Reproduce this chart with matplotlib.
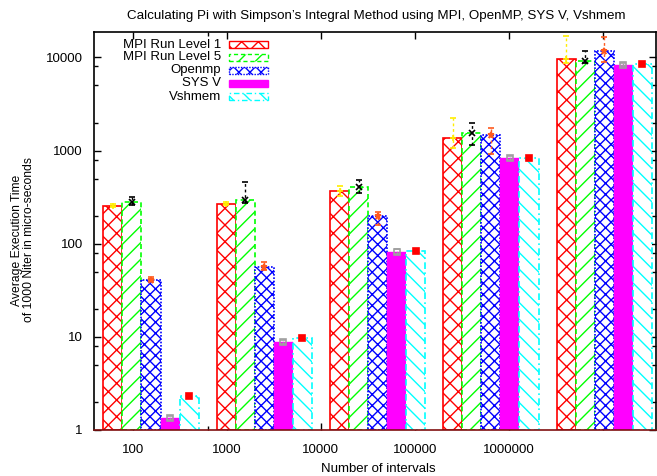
import matplotlib
matplotlib.use('Agg')
import matplotlib.pyplot as plt
from matplotlib.patches import Rectangle
import numpy as np

plt.rcParams['font.family'] = ['Liberation Sans', 'DejaVu Sans']
plt.rcParams['hatch.linewidth'] = 1.0

# interval counts (tick labels) and bar data, micro-seconds
intervals = ['100', '1000', '10000', '100000', '1000000', '']
series = ['MPI Run Level 1', 'MPI Run Level 5', 'Openmp', 'SYS V', 'Vshmem']

mpi1 = [256, 269, 364, 1361, 9640]
mpi5 = [281, 295, 406, 1540, 9240]
openmp = [41.2, 56.4, 200, 1477, 11830]
sysv = [1.33, 8.7, 82, 831, 8310]
vshmem = [2.31, 9.8, 83.7, 831, 8450]

# error bar bounds (low, high)
mpi1_lo = [245, 258, 327, 1070, 8700]
mpi1_hi = [268, 280, 417, 2240, 17000]
mpi5_lo = [263, 275, 350, 1150, 8800]
mpi5_hi = [318, 455, 478, 1990, 11800]
openmp_lo = [39.6, 52.6, 160, 924, 9020]
openmp_hi = [43.6, 63, 217, 1760, 16700]
sysv_lo = [1.28, 8.3, 78, 800, 8000]
sysv_hi = [1.40, 9.2, 88, 870, 8650]
vshmem_lo = vshmem
vshmem_hi = vshmem

values = [mpi1, mpi5, openmp, sysv, vshmem]
lows = [mpi1_lo, mpi5_lo, openmp_lo, sysv_lo, vshmem_lo]
highs = [mpi1_hi, mpi5_hi, openmp_hi, sysv_hi, vshmem_hi]

colors = ['#ff0000', '#00ff00', '#0000ff', '#ff00ff', '#00ffff']
hatches = ['xx', '//', 'xxx', None, '\\\\']
edge_ls = ['-', (0, (3, 2)), (0, (1, 1)), '-', (0, (4, 2, 1, 2))]
err_colors = ['#ffee00', '#000000', '#ff5a1e', '#a0a0a0', '#ff0000']
err_markers = ['+', 'x', '*', 's', 's']
err_fill = [True, True, True, False, True]

fig = plt.figure(figsize=(6.57, 4.76), dpi=100)
ax = fig.add_axes([94 / 657, 46 / 476, 562 / 657, 398.3 / 476])

w = 0.168
x = np.arange(len(mpi1))
for j in range(5):
    xs = x + (j - 2) * w
    h = np.array(values[j]) - 1
    if hatches[j] is None:
        ax.bar(xs, h, width=w, bottom=1, color=colors[j],
               edgecolor=colors[j], linewidth=1, zorder=2)
    else:
        ax.bar(xs, h, width=w, bottom=1, color='white',
               edgecolor=colors[j], hatch=hatches[j], linewidth=1.2,
               linestyle=edge_ls[j], zorder=2)

for j in range(5):
    xs = x + (j - 2) * w
    v = np.array(values[j])
    yerr = [v - np.array(lows[j]), np.array(highs[j]) - v]
    mfc = err_colors[j] if err_fill[j] else 'none'
    eb = ax.errorbar(xs, v, yerr=yerr, fmt=err_markers[j], color=err_colors[j],
                     mfc=mfc, mec=err_colors[j], ms=5, mew=1.2,
                     elinewidth=1, capsize=2.5, zorder=4)
    for lc in eb.lines[2]:
        lc.set_linestyle((0, (2, 2)))

ax.set_yscale('log')
ax.set_ylim(1, 10 ** 4.276)
ax.set_xlim(-0.503, 4.457)

tick_pos = [-0.16, 0.67, 1.50, 2.33, 3.16, 3.99]
ax.set_xticks(tick_pos)
ax.set_xticklabels(intervals)
ax.set_xticks([0.503], minor=True)
ax.set_yticks([1, 10, 100, 1000, 10000])
ax.set_yticklabels(['1', '10', '100', '1000', '10000'])
minor_y = [m * 10 ** d for d in range(0, 5) for m in (2, 5, 8)]
ax.set_yticks([m for m in minor_y if m < 10 ** 4.276], minor=True)
ax.yaxis.set_minor_formatter(plt.NullFormatter())

ax.tick_params(which='both', direction='in', top=True, right=True,
               labelsize=9.5, colors='black')
ax.tick_params(which='major', length=5, width=1)
ax.tick_params(which='minor', length=3, width=1)
ax.tick_params(axis='x', pad=10)
ax.tick_params(axis='y', pad=8)
for s in ax.spines.values():
    s.set_linewidth(1.2)
ax.spines['bottom'].set_color('#801010')

# legend, gnuplot style: text right-justified, sample on the right
for k in range(5):
    yc = (430 - (44.5 + 13 * k)) / 398.3
    ax.text(0.226, yc, series[k], transform=ax.transAxes, ha='right',
            va='center', fontsize=9.5)
    rect = Rectangle((0.2402, yc - 0.0085), 0.0694, 0.017, transform=ax.transAxes,
                     facecolor=colors[k] if hatches[k] is None else 'white',
                     edgecolor=colors[k], hatch=hatches[k], linewidth=1,
                     linestyle=edge_ls[k], zorder=5)
    ax.add_patch(rect)

fig.text(376 / 657, 1 - 16 / 476,
         "Calculating Pi with Simpson\u2019s Integral Method using MPI, OpenMP, SYS V, Vshmem",
         ha='center', va='center', fontsize=9.6)
fig.text(378 / 657, 1 - 469 / 476, 'Number of intervals', ha='center',
         va='center', fontsize=9.5)
fig.text(23 / 657, 1 - 240 / 476,
         'Average Execution Time\nof 1000 Niter in micro-seconds',
         ha='center', va='center', rotation=90, fontsize=8.7, linespacing=0.9)

fig.savefig('out.png', dpi=100)
